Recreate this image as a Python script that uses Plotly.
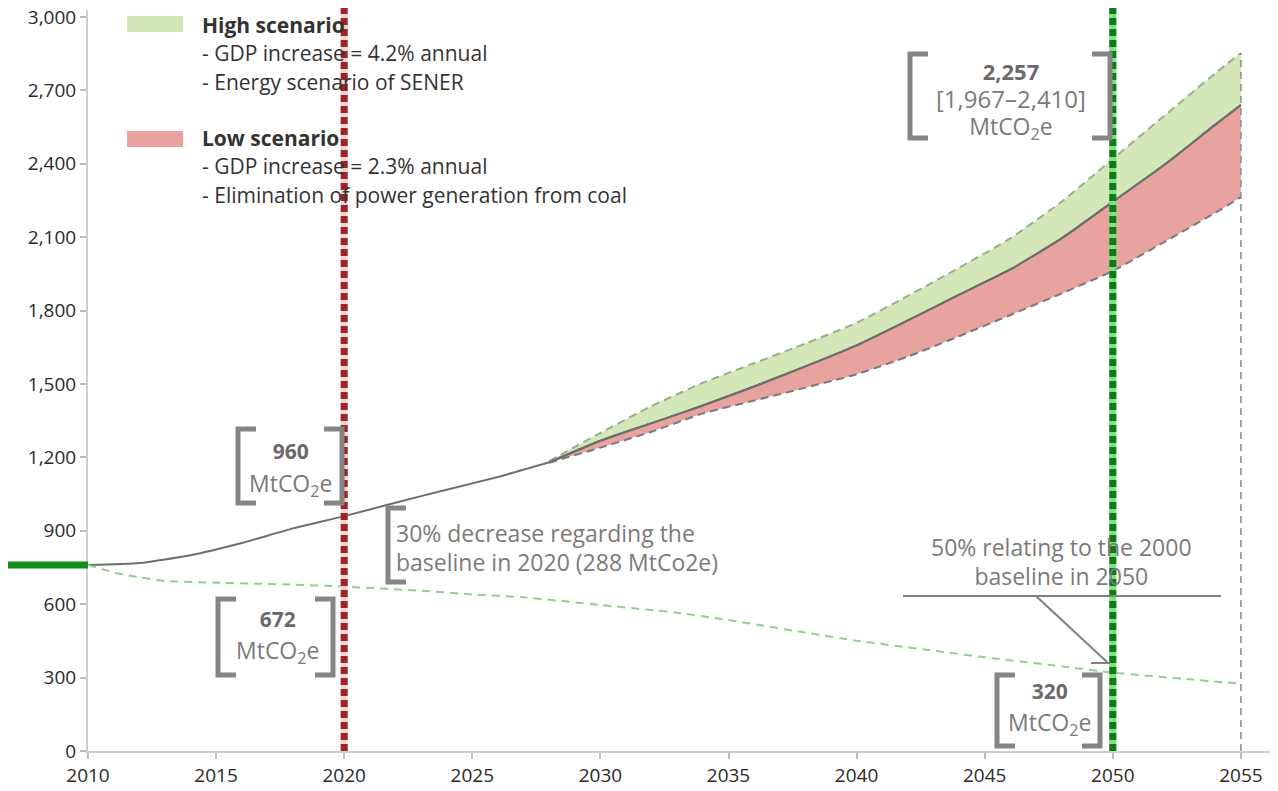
import plotly.graph_objects as go

# ---------------- data ----------------
base_years = [2010, 2012, 2014, 2016, 2018, 2020, 2022, 2024, 2026, 2028]
base_vals = [760, 768, 800, 850, 910, 960, 1015, 1068, 1120, 1180]

scn_years = [2028, 2030, 2032, 2034, 2036, 2038, 2040, 2042, 2044, 2046, 2048, 2050, 2052, 2054, 2055]
scn_central = [1180, 1268, 1340, 1412, 1490, 1572, 1658, 1760, 1865, 1968, 2095, 2245, 2395, 2560, 2640]
scn_high = [1185, 1300, 1410, 1505, 1585, 1665, 1750, 1860, 1975, 2095, 2245, 2420, 2595, 2770, 2853]
scn_low = [1178, 1240, 1305, 1380, 1432, 1485, 1540, 1612, 1695, 1782, 1870, 1962, 2080, 2200, 2264]

red_years = [2010, 2011, 2012, 2013, 2015, 2018, 2020, 2023, 2025, 2027, 2030, 2033, 2035, 2038,
             2040, 2043, 2045, 2048, 2050, 2053, 2055]
red_vals = [760, 730, 710, 695, 688, 680, 672, 655, 640, 628, 597, 565, 535, 484,
            451, 410, 383, 346, 320, 293, 275]

x_ticks = [2010, 2015, 2020, 2025, 2030, 2035, 2040, 2045, 2050, 2055]
y_ticks = [0, 300, 600, 900, 1200, 1500, 1800, 2100, 2400, 2700, 3000]

target_2020_year = 2020
target_2050_year = 2050
baseline_2010 = 760

# ---------------- geometry ----------------
# the page body adds an 8px offset; all pixel positions below are page pixels
OFF = 8
W, H = 1278 - OFF, 791 - OFF
ML, MR, MT, MB = 88 - OFF, 6, 10 - OFF, 40
PW, PH = W - ML - MR, H - MT - MB
XS = 25.62          # px per year
YS = 0.24467        # px per unit
XMAX = 2010 + PW / XS
YMAX = PH / YS
PLOT_LEFT = 88       # page px of x=2010
PLOT_BOTTOM = 751    # page px of y=0


def dx(px):
    return 2010 + (px - PLOT_LEFT) / XS


def dy(py):
    return (PLOT_BOTTOM - py) / YS


def paper_x(year):
    return (year - 2010) / (XMAX - 2010)


FONT = "Open Sans"
GRAY_TXT = "#7a7a7a"
BR = "#858585"

fig = go.Figure()

# bands
fig.add_trace(go.Scatter(x=scn_years, y=scn_low, mode="lines",
                         line=dict(color="#7a7a7a", width=2, dash="8px,5px", shape="spline", smoothing=0.5),
                         hoverinfo="skip"))
fig.add_trace(go.Scatter(x=scn_years, y=scn_central, mode="lines", fill="tonexty",
                         fillcolor="#e8a39e",
                         line=dict(color="#6e6e6e", width=2, shape="spline", smoothing=0.5),
                         hoverinfo="skip"))
fig.add_trace(go.Scatter(x=scn_years, y=scn_high, mode="lines", fill="tonexty",
                         fillcolor="#d4e7b9",
                         line=dict(color="#93b287", width=2, dash="8px,5px", shape="spline", smoothing=0.5),
                         hoverinfo="skip"))
# central line drawn again on top of the green band
fig.add_trace(go.Scatter(x=scn_years, y=scn_central, mode="lines",
                         line=dict(color="#6e6e6e", width=2, shape="spline", smoothing=0.5),
                         hoverinfo="skip"))
# baseline (historic part)
fig.add_trace(go.Scatter(x=base_years, y=base_vals, mode="lines",
                         line=dict(color="#6e6e6e", width=2, shape="spline", smoothing=0.5), hoverinfo="skip"))
# reduction path
fig.add_trace(go.Scatter(x=red_years, y=red_vals, mode="lines",
                         line=dict(color="#8fcf8f", width=2, dash="8px,6px", shape="spline", smoothing=0.6),
                         hoverinfo="skip"))

shapes = []
# dashed vertical at 2055
shapes.append(dict(type="line", xref="x", yref="y", x0=scn_years[-1], x1=scn_years[-1], y0=0, y1=scn_high[-1],
                   line=dict(color="#8a8a8a", width=1.5, dash="7px,5px")))
# red dotted 2020
top = 1 + MT / PH
px20 = paper_x(target_2020_year)
shapes.append(dict(type="line", xref="paper", yref="paper", x0=px20, x1=px20, y0=0, y1=top,
                   line=dict(color="#f0d2d2", width=7)))
shapes.append(dict(type="line", xref="paper", yref="paper", x0=px20, x1=px20, y0=0, y1=top,
                   line=dict(color="#9b2428", width=7, dash="7px,4px")))
# green dotted 2050
px50 = paper_x(target_2050_year)
shapes.append(dict(type="line", xref="paper", yref="paper", x0=px50, x1=px50, y0=0, y1=top,
                   line=dict(color="#7ee07e", width=7)))
shapes.append(dict(type="line", xref="paper", yref="paper", x0=px50, x1=px50, y0=0, y1=top,
                   line=dict(color="#0f7a17", width=7, dash="7px,4px")))
# green baseline marker on the left margin
yb = baseline_2010 / YMAX
shapes.append(dict(type="line", xref="paper", yref="paper", x0=-ML / PW, x1=0, y0=yb, y1=yb,
                   line=dict(color="#138a1a", width=7)))

# legend swatches
shapes.append(dict(type="rect", xref="x", yref="y", x0=dx(127), x1=dx(183), y0=dy(32), y1=dy(16),
                   fillcolor="#d4e7b9", line=dict(width=0)))
shapes.append(dict(type="rect", xref="x", yref="y", x0=dx(127), x1=dx(183), y0=dy(147), y1=dy(131),
                   fillcolor="#e8a39e", line=dict(width=0)))


def bracket(xl, xr, yt, yb_, serif=18, left=True, right=True):
    out = []
    if left:
        p = f"M {dx(xl + serif)},{dy(yt)} L {dx(xl)},{dy(yt)} L {dx(xl)},{dy(yb_)} L {dx(xl + serif)},{dy(yb_)}"
        out.append(dict(type="path", xref="x", yref="y", path=p, line=dict(color=BR, width=5)))
    if right:
        p = f"M {dx(xr - serif)},{dy(yt)} L {dx(xr)},{dy(yt)} L {dx(xr)},{dy(yb_)} L {dx(xr - serif)},{dy(yb_)}"
        out.append(dict(type="path", xref="x", yref="y", path=p, line=dict(color=BR, width=5)))
    return out


shapes += bracket(238, 342, 429, 503)
shapes += bracket(218, 333, 599, 675)
shapes += bracket(388, 0, 508, 582, right=False)
shapes += bracket(910, 1110, 54, 138)
shapes += bracket(997, 1100, 675, 746)

# 50% annotation lines
shapes.append(dict(type="line", xref="x", yref="y", x0=dx(903), x1=dx(1221), y0=dy(596), y1=dy(596),
                   line=dict(color="#808080", width=2)))
shapes.append(dict(type="line", xref="x", yref="y", x0=dx(1036), x1=dx(1107), y0=dy(596), y1=dy(662),
                   line=dict(color="#808080", width=2)))
shapes.append(dict(type="line", xref="x", yref="y", x0=dx(1091), x1=dx(1110), y0=dy(663), y1=dy(663),
                   line=dict(color="#808080", width=2)))

ann = []


def txt(px, py, text, size=19, color=GRAY_TXT, anchor="center", bold=False):
    if bold:
        text = f"<b>{text}</b>"
    ann.append(dict(x=dx(px), y=dy(py), xref="x", yref="y", text=text, showarrow=False,
                    xanchor=anchor, yanchor="middle", align=anchor if anchor != "center" else "center",
                    font=dict(family=FONT, size=size, color=color)))


def sp(text, size, color=None, bold=False):
    style = f"font-size:{size}px"
    if color:
        style += f";color:{color}"
    t = f"<b>{text}</b>" if bold else text
    return f"<span style='{style}'>{t}</span>"


LEG = "#333333"
txt(200, 25, "High scenario", 21, LEG, "left", True)
txt(200, 53, "- GDP increase = 4.2% annual", 21, LEG, "left")
txt(200, 82, "- Energy scenario of SENER", 21, LEG, "left")
txt(200, 138, "Low scenario", 21, LEG, "left", True)
txt(200, 166, "- GDP increase = 2.3% annual", 21, LEG, "left")
txt(200, 195, "- Elimination of power generation from coal", 21, LEG, "left")

NUM = "#6a6a6a"
MT_UNIT = "MtCO<sub>2</sub>e"
# bracketed value blocks (line spacing = 1.3 x base size)
txt(290, 469, sp("960", 21, NUM, True) + "<br>" + sp(MT_UNIT, 23), 25.4)
txt(277, 637, sp("672", 21, NUM, True) + "<br>" + sp(MT_UNIT, 23), 24.6)
txt(1011, 100, sp("2,257", 22, NUM, True) + "<br>" + sp("[1,967–2,410]", 24) + "<br>" + sp(MT_UNIT, 23), 21.2)
txt(1049, 709, sp("320", 21, NUM, True) + "<br>" + sp(MT_UNIT, 23), 24.6)
txt(394, 547, sp("30% decrease regarding the", 23) + "<br>" + sp("baseline in 2020 (288 MtCo2e)", 23),
    22.3, GRAY_TXT, "left")
txt(1061, 561, sp("50% relating to the 2000", 23) + "<br>" + sp("baseline in 2050", 23), 22.3)

fig.update_layout(
    width=W, height=H,
    margin=dict(l=ML, r=MR, t=MT, b=MB, autoexpand=False),
    paper_bgcolor="white", plot_bgcolor="white",
    showlegend=False,
    shapes=shapes, annotations=ann,
    xaxis=dict(range=[2010, XMAX], tickvals=x_ticks, ticktext=[str(v) for v in x_ticks],
               automargin=False, ticklabeloverflow="allow",
               showgrid=False, zeroline=False, showline=True, linecolor="#cfcfcf", linewidth=2,
               ticks="outside", ticklen=6, tickcolor="#bdbdbd", tickwidth=1.5,
               tickfont=dict(family=FONT, size=19, color="#2a2a2a")),
    yaxis=dict(range=[0, YMAX], tickvals=y_ticks, ticktext=[f"{v:,}" for v in y_ticks],
               automargin=False, ticklabeloverflow="allow",
               showgrid=False, zeroline=False, showline=True, linecolor="#cfcfcf", linewidth=2,
               ticks="outside", ticklen=6, tickcolor="#bdbdbd", tickwidth=1.5,
               tickfont=dict(family=FONT, size=19, color="#2a2a2a")),
)

fig.write_html("out.html")
